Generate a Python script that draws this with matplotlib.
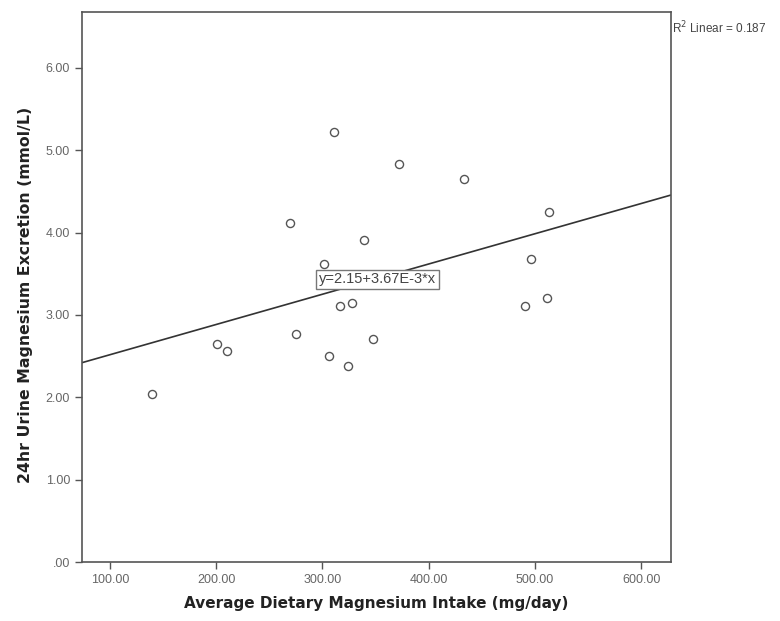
import matplotlib
matplotlib.use("Agg")
import matplotlib.pyplot as plt

# dietary Mg intake (mg/day) vs 24hr urine Mg excretion (mmol/L)
intake = [310.9, 372.4, 269.5, 338.9, 301.5, 316.6, 328.2, 274.9, 347.4, 200.5,
          209.9, 306.5, 324.1, 139.3, 433.3, 513.1, 496.7, 511.8, 490.8]
excretion = [5.22, 4.83, 4.11, 3.91, 3.62, 3.11, 3.14, 2.77, 2.71, 2.65,
             2.56, 2.50, 2.38, 2.04, 4.65, 4.25, 3.68, 3.21, 3.11]

intercept = 2.15
slope = 3.67e-3
r_squared = 0.187

x_ticks = [100, 200, 300, 400, 500, 600]
y_ticks = [0, 1, 2, 3, 4, 5, 6]

plt.rcParams['font.family'] = ['Liberation Sans', 'DejaVu Sans']

fig = plt.figure(figsize=(7.8, 6.21), dpi=100)
ax = fig.add_axes([0.105, 0.095, 0.755, 0.886])

xmin, xmax = 73.5, 628
ax.set_xlim(xmin, xmax)
ax.set_ylim(0, 6.68)

ax.scatter(intake, excretion, s=34, facecolors='white', edgecolors='#555555',
           linewidths=1.0, zorder=3)
ax.plot([xmin, xmax], [intercept + slope * xmin, intercept + slope * xmax],
        color='#333333', linewidth=1.2, zorder=2)

ax.text(352, 3.43, f"y={intercept:.2f}+{slope * 1000:.2f}E-3*x", fontsize=10.5,
        color='#444444', ha='center', va='center', zorder=4,
        bbox=dict(boxstyle='square,pad=0.2', facecolor='white', edgecolor='#777777', linewidth=1))

fig.text(0.862, 0.955, f"R$^2$ Linear = {r_squared:.3f}", fontsize=8.5, color='#444444',
         ha='left', va='center')

ax.set_xticks(x_ticks)
ax.set_xticklabels([f"{v:.2f}" for v in x_ticks])
ax.set_yticks(y_ticks)
ax.set_yticklabels([".00" if v == 0 else f"{v:.2f}" for v in y_ticks])
ax.tick_params(direction='out', length=5, width=1, colors='#555555', labelsize=9,
               labelcolor='#666666')

for s in ax.spines.values():
    s.set_color('#555555')
    s.set_linewidth(1.2)

ax.set_xlabel("Average Dietary Magnesium Intake (mg/day)", fontsize=11,
              fontweight='bold', color='#222222', labelpad=7, family='DejaVu Sans')
ax.set_ylabel("24hr Urine Magnesium Excretion (mmol/L)", fontsize=11.3,
              fontweight='bold', color='#222222', labelpad=8, family='DejaVu Sans')
ax.yaxis.set_label_coords(-0.083, 0.485)

fig.savefig("out.png", dpi=100)
